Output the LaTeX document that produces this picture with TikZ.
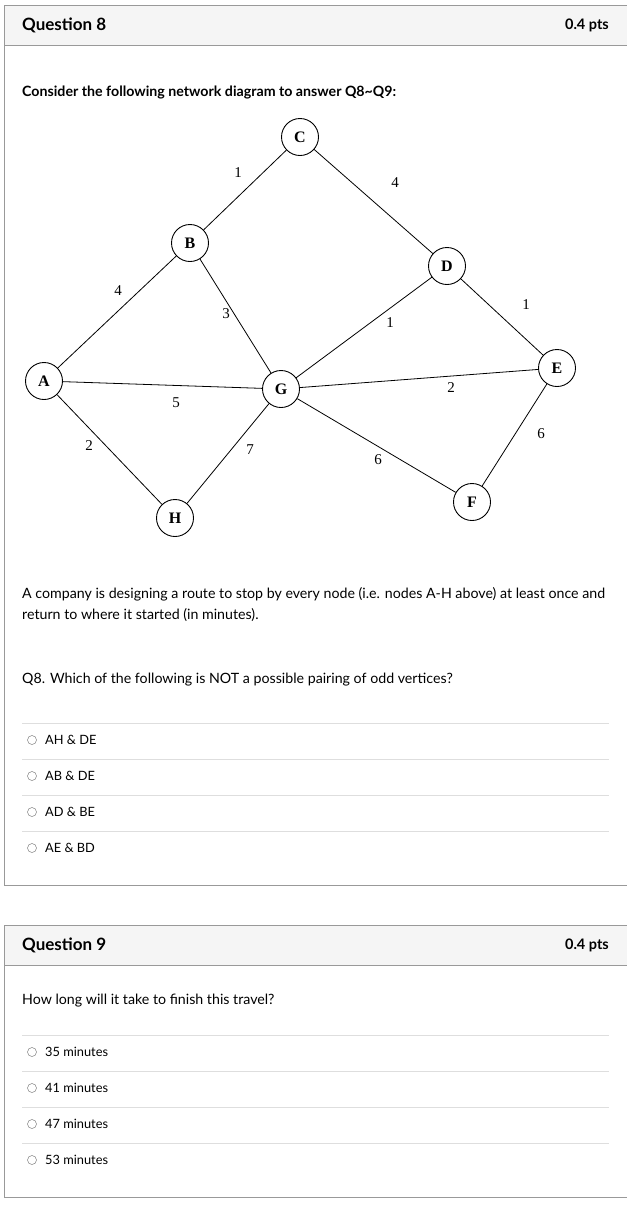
\documentclass[tikz,border=0pt]{standalone}
\usepackage{fontspec}
\setmainfont{Lato}
\newfontfamily\gfont{Liberation Serif}
\begin{document}
\begin{tikzpicture}[x=1pt,y=-1pt,
 vtx/.style={circle,draw,line width=0.9pt,minimum size=37pt,inner sep=0pt,font=\gfont\fontsize{16}{16}\selectfont\bfseries,fill=white},
 wt/.style={font=\gfont\fontsize{15}{15}\selectfont,inner sep=1pt},
 txt/.style={anchor=west,inner sep=0pt,font=\fontsize{14.2}{16}\selectfont},
 opt/.style={anchor=west,inner sep=0pt,font=\fontsize{12.8}{15}\selectfont},
 sep/.style={draw=black!13,line width=0.8pt},
 rb/.style={circle,draw=black!50,line width=0.5pt,minimum size=9pt,inner sep=0pt}]
\useasboundingbox (0,0) rectangle (627,1219);
% boxes
\fill[black!4] (4,5) rectangle (627,45);
\draw[black!40,line width=0.8pt] (4,885) -- (4,5) -- (627,5) (4,45)--(627,45) (4,885)--(627,885);
\fill[black!4] (4,925) rectangle (627,965);
\draw[black!40,line width=0.8pt] (4,1197) -- (4,925) -- (627,925) (4,965)--(627,965) (4,1197)--(627,1197);
\node[txt,font=\fontsize{17}{18}\selectfont\bfseries] (q8) at (22,25) {Question 8};
\node[txt,anchor=east,font=\fontsize{14.5}{16}\selectfont\bfseries] (p8) at (609,25) {0.4 pts};
\node[txt,font=\fontsize{17}{18}\selectfont\bfseries] (q9) at (22,945) {Question 9};
\node[txt,anchor=east,font=\fontsize{14.5}{16}\selectfont\bfseries] (p9) at (609,945) {0.4 pts};
\node[txt,font=\fontsize{14.2}{16}\selectfont\bfseries] (cons) at (22,93) {Consider the following network diagram to answer Q8\char`~Q9:};
% graph
\node[vtx] (C) at (300,137) {C};
\node[vtx] (B) at (190,243) {B};
\node[vtx] (D) at (447,266) {D};
\node[vtx] (E) at (557,368) {E};
\node[vtx] (A) at (44,381) {A};
\node[vtx] (G) at (281,389) {G};
\node[vtx] (F) at (472,502) {F};
\node[vtx] (H) at (175,518) {H};
\begin{scope}[line width=0.8pt]
\draw (A)--(B) (B)--(C) (C)--(D) (D)--(E) (A)--(G) (B)--(G) (D)--(G) (G)--(E) (A)--(H) (H)--(G) (G)--(F) (F)--(E);
\end{scope}
\node[wt] (w1) at (118,291) {4};
\node[wt] (w2) at (238,173) {1};
\node[wt] (w3) at (395,183) {4};
\node[wt] (w4) at (526,305) {1};
\node[wt] (w5) at (176,403) {5};
\node[wt] (w6) at (226,314) {3};
\node[wt] (w7) at (390,323) {1};
\node[wt] (w8) at (451,388) {2};
\node[wt] (w9) at (89,446) {2};
\node[wt] (w10) at (250,450) {7};
\node[wt] (w11) at (378,460) {6};
\node[wt] (w12) at (541,434) {6};
% texts
\node[txt] (t1) at (22,594) {A company is designing a route to stop by every node (i.e. nodes A-H above) at least once and};
\node[txt] (t2) at (22,615) {return to where it started (in minutes).};
\node[txt] (t3) at (22,680) {Q8. Which of the following is NOT a possible pairing of odd vertices?};
\foreach \y in {723,759,795,831} \draw[sep] (22,\y)--(609,\y);
\foreach \y/\t [count=\i] in {740/AH \& DE,776/AB \& DE,812/AD \& BE,848/AE \& BD}{
 \node[rb] (r\i) at (32,\y) {};
 \node[opt] (o\i) at (45,\y) {\t};}
\node[txt] (t4) at (22,1001) {How long will it take to finish this travel?};
\foreach \y in {1035,1071,1107,1143} \draw[sep] (22,\y)--(609,\y);
\foreach \y/\t [count=\i] in {1052/35 minutes,1088/41 minutes,1124/47 minutes,1160/53 minutes}{
 \node[rb] (s\i) at (32,\y) {};
 \node[opt] (u\i) at (45,\y) {\t};}
\end{tikzpicture}
\end{document}
